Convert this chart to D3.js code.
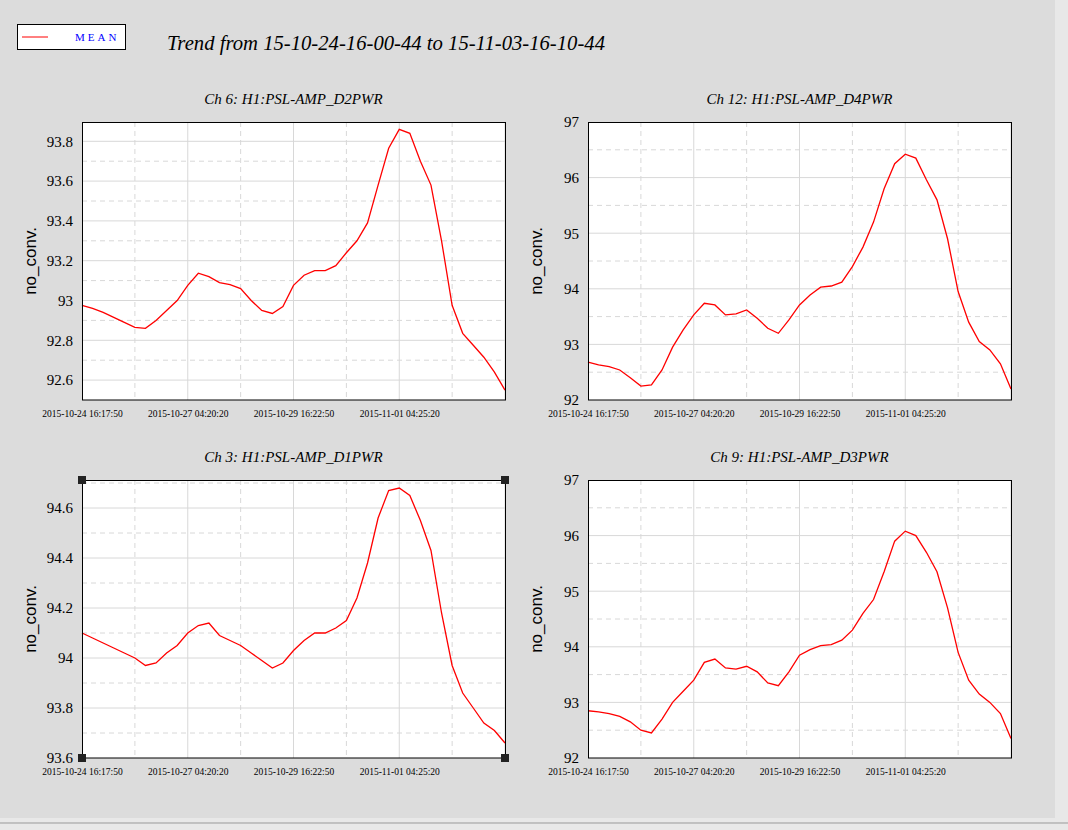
<!DOCTYPE html>
<html><head><meta charset="utf-8">
<script src="https://cdn.jsdelivr.net/npm/d3@7"></script>
<style>body{margin:0;background:#e8e8e8;} svg{display:block;} .serif{font-family:"Liberation Serif","Times New Roman",Times,serif;}</style>
</head><body>
<svg width="1068" height="830"></svg>
<script>
// sample times: every 6 h from the start of the window
var startTime = new Date(2015, 9, 24, 16, 17, 50);
var hours = d3.range(0, 241, 6);
var tickLabels = ["2015-10-24 16:17:50", "2015-10-27 04:20:20", "2015-10-29 16:22:50", "2015-11-01 04:25:20"];

var ch6 = [92.976,92.96,92.94,92.915,92.89,92.865,92.86,92.90,92.95,93.0,93.076,93.137,93.12,93.09,93.08,93.06,93.0,92.95,92.935,92.97,93.076,93.127,93.15,93.15,93.175,93.24,93.30,93.39,93.58,93.765,93.86,93.84,93.70,93.58,93.30,92.976,92.835,92.775,92.715,92.64,92.55];
var ch12 = [92.68,92.63,92.6,92.54,92.4,92.25,92.27,92.54,92.95,93.26,93.53,93.74,93.71,93.53,93.55,93.62,93.47,93.29,93.2,93.44,93.71,93.89,94.03,94.05,94.12,94.4,94.75,95.2,95.8,96.25,96.42,96.35,95.96,95.6,94.9,93.95,93.4,93.05,92.9,92.65,92.2];
var ch3 = [94.10,94.08,94.06,94.04,94.02,94.0,93.97,93.98,94.02,94.05,94.10,94.13,94.14,94.09,94.07,94.05,94.02,93.99,93.96,93.98,94.03,94.07,94.10,94.10,94.12,94.15,94.24,94.38,94.56,94.67,94.68,94.65,94.55,94.43,94.18,93.97,93.86,93.80,93.74,93.71,93.66];
var ch9 = [92.85,92.83,92.8,92.75,92.65,92.5,92.45,92.7,93.0,93.2,93.4,93.72,93.78,93.62,93.6,93.65,93.55,93.35,93.3,93.55,93.85,93.95,94.02,94.04,94.12,94.3,94.6,94.85,95.35,95.9,96.08,96.0,95.7,95.35,94.7,93.9,93.4,93.15,93.0,92.8,92.35];

var yTicksSmall6 = [92.6,92.8,93,93.2,93.4,93.6,93.8];
var yTicksSmall3 = [93.6,93.8,94,94.2,94.4,94.6];
var yTicksBig = [92,93,94,95,96,97];

var svg = d3.select("svg");
svg.append("rect").attr("width",1055).attr("height",818).attr("fill","#dcdcdc");
svg.append("line").attr("x1",0).attr("x2",1068).attr("y1",823).attr("y2",823).attr("stroke","#999");

// legend
svg.append("rect").attr("x",17.5).attr("y",24.5).attr("width",108).attr("height",25).attr("fill","#fff").attr("stroke","#000");
svg.append("line").attr("x1",22).attr("x2",48).attr("y1",37).attr("y2",37).attr("stroke","red");
svg.append("text").attr("class","serif").attr("x",75).attr("y",41).text("MEAN").attr("fill","blue")
	.style("font-size","11px").style("letter-spacing","3px");
svg.append("text").attr("class","serif").attr("x",167).attr("y",50).text("Trend from 15-10-24-16-00-44 to 15-11-03-16-10-44")
	.style("font-size","21px").style("font-style","italic")
	.attr("textLength",438).attr("lengthAdjust","spacingAndGlyphs");

function panel(px, py, title, data, ydom, yticks, minor, handles) {
	var w = 423, h = 278;
	var g = svg.append("g").attr("transform","translate("+px+","+py+")");
	var x = d3.scaleLinear().domain([0,240]).range([0,w]);
	var y = d3.scaleLinear().domain(ydom).range([h,0]);
	g.append("rect").attr("width",w).attr("height",h).attr("fill","#fff");
	// grid
	d3.range(1,9).forEach(function(i){
		g.append("line").attr("x1",x(i*30)).attr("x2",x(i*30)).attr("y1",0).attr("y2",h)
			.attr("stroke","#d8d8d8").attr("stroke-dasharray", i%2 ? "5,4" : null);
	});
	var ys = yticks.slice();
	yticks.forEach(function(t){ ys.push(t+minor); });
	ys.forEach(function(t,i){
		if (t<=ydom[0] || t>=ydom[1]) return;
		g.append("line").attr("x1",0).attr("x2",w).attr("y1",y(t)).attr("y2",y(t))
			.attr("stroke","#d8d8d8").attr("stroke-dasharray", i>=yticks.length ? "5,4" : null);
	});
	var line = d3.line().x(function(d,i){return x(hours[i]);}).y(function(d){return y(d);});
	g.append("path").datum(data).attr("d",line).attr("fill","none").attr("stroke","red").attr("stroke-width",1.3);
	g.append("rect").attr("x",0.5).attr("y",0.5).attr("width",w).attr("height",h-0.5).attr("fill","none").attr("stroke","#000");
	// y axis labels
	var ya = d3.axisLeft(y).tickValues(yticks).tickSize(0).tickPadding(9).tickFormat(d3.format("~g"));
	var ag = g.append("g").call(ya).attr("font-family",null);
	ag.select(".domain").remove();
	ag.selectAll("text").attr("class","serif").style("font-size","15px").attr("fill","#000");
	// x axis labels
	var xa = d3.axisBottom(x).tickValues([0,60,120,180]).tickSize(0).tickPadding(10)
		.tickFormat(function(d,i){return tickLabels[i];});
	var xg = g.append("g").attr("transform","translate(0,"+h+")").call(xa).attr("font-family",null);
	xg.select(".domain").remove();
	xg.selectAll("text").attr("class","serif").style("font-size","9.5px").attr("fill","#000");
	g.append("text").attr("transform","translate(-46,"+(h/2)+") rotate(-90)").attr("text-anchor","middle")
		.text("no_conv.").style("font-family","'Liberation Sans',Arial,sans-serif").style("font-size","17px");
	g.append("text").attr("class","serif").attr("x",w/2).attr("y",-18).attr("text-anchor","middle").text(title)
		.style("font-size","15px").style("font-style","italic");
	if (handles) {
		[[0,0],[w,0],[0,h],[w,h]].forEach(function(p){
			g.append("rect").attr("x",p[0]-4).attr("y",p[1]-4).attr("width",8).attr("height",8).attr("fill","#222");
		});
	}
}

panel(82,122,"Ch 6: H1:PSL-AMP_D2PWR",ch6,[92.5,93.897],yTicksSmall6,0.1,false);
panel(588,122,"Ch 12: H1:PSL-AMP_D4PWR",ch12,[92,97],yTicksBig,0.5,false);
panel(82,480,"Ch 3: H1:PSL-AMP_D1PWR",ch3,[93.6,94.712],yTicksSmall3,0.1,true);
panel(588,480,"Ch 9: H1:PSL-AMP_D3PWR",ch9,[92,97],yTicksBig,0.5,false);
</script>
</body></html>
